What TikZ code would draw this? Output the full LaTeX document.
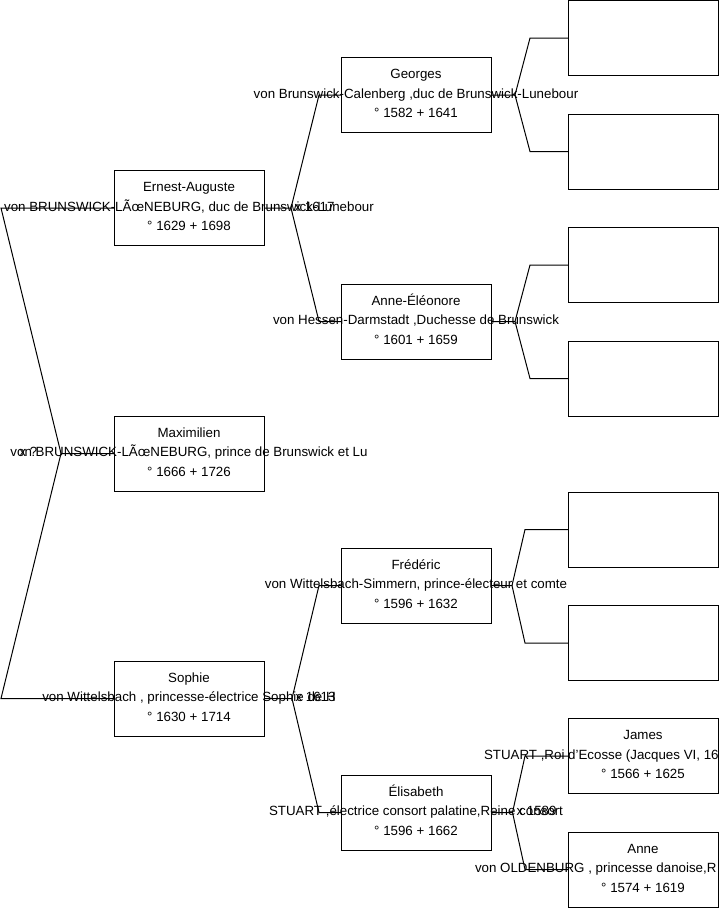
\documentclass[tikz,border=0pt]{standalone}
\usepackage{fontspec}
\setmainfont{Liberation Sans}
\newcommand\txtfont{\fontsize{13.33}{16}\selectfont}
\begin{document}
\begin{tikzpicture}[x=1pt,y=-1pt,
  box/.style={draw=black, line width=1pt, minimum width=150pt, minimum height=75pt, inner sep=0pt, outer sep=0pt},
  lbl/.style={anchor=base, inner sep=0pt, outer sep=0pt, font=\txtfont, text=black},
  lblw/.style={anchor=base west, inner sep=0pt, outer sep=0pt, font=\txtfont, text=black},
  conn/.style={draw=black, line width=1pt}]
\useasboundingbox (0,0) rectangle (719,908);
\newcommand\perso[6]{%
  \node[box] (#1) at (#2,#3) {};
  \node[lbl] (#1-a) at (#2,#3-16.5) {#4};
  \node[lbl] (#1-b) at (#2,#3+3) {#5};
  \node[lbl] (#1-c) at (#2,#3+22.5) {#6};}
% column 1
\perso{ea}{189}{208}{Ernest-Auguste}{von BRUNSWICK-LÃ\char"0153 NEBURG, duc de Brunswick-Lunebour}{° 1629 + 1698}
\perso{mx}{189}{453.5}{Maximilien}{von BRUNSWICK-LÃ\char"0153 NEBURG, prince de Brunswick et Lu}{° 1666 + 1726}
\perso{so}{189}{698.5}{Sophie}{von Wittelsbach , princesse-électrice Sophie de H}{° 1630 + 1714}
% column 2
\perso{ge}{416}{95}{Georges}{von Brunswick-Calenberg ,duc de Brunswick-Lunebour}{° 1582 + 1641}
\perso{ae}{416}{321.5}{Anne-Éléonore}{von Hessen-Darmstadt ,Duchesse de Brunswick}{° 1601 + 1659}
\perso{fr}{416}{585.5}{Frédéric}{von Wittelsbach-Simmern, prince-électeur et comte\hspace{3.7pt}}{° 1596 + 1632}
\perso{el}{416}{812.5}{Élisabeth}{STUART ,électrice consort palatine,Reine consort\hspace{4pt}}{° 1596 + 1662}
% column 3
\node[box] (e1) at (643,38) {};
\node[box] (e2) at (643,151.5) {};
\node[box] (e3) at (643,265) {};
\node[box] (e4) at (643,378.5) {};
\node[box] (e5) at (643,529.5) {};
\node[box] (e6) at (643,643) {};
\node[box] (ja) at (643,756) {};
\node[lbl] (ja-a) at (643,739.5) {James};
\node[lblw] (ja-b) at (484,759) {STUART ,Roi d'Ecosse (Jacques VI, 16};
\node[lbl] (ja-c) at (643,778.5) {° 1566 + 1625};
\node[box] (an) at (643,869.5) {};
\node[lbl] (an-a) at (643,853) {Anne};
\node[lblw] (an-b) at (475,872.5) {von OLDENBURG , princesse danoise,R};
\node[lbl] (an-c) at (643,892) {° 1574 + 1619};
% vertices
\coordinate (vL) at (61,453.5);
\coordinate (tEA) at (1,208);
\coordinate (tSO) at (1,698.5);
\coordinate (v1) at (291,208);
\coordinate (v2) at (292,698.5);
\coordinate (vge) at (515,95);
\coordinate (vae) at (515,321.5);
\coordinate (vfr) at (512,585.5);
\coordinate (vel) at (512.5,812.5);
% connectors
\draw[conn] (mx.west) -- (vL) -- (tEA) -- (ea.west);
\draw[conn] (vL) -- (tSO) -- (so.west);
\draw[conn] (ea.east) -- (v1) -- ([xshift=-22pt]ge.west) -- (ge.west);
\draw[conn] (v1) -- ([xshift=-22pt]ae.west) -- (ae.west);
\draw[conn] (so.east) -- (v2) -- ([xshift=-22pt]fr.west) -- (fr.west);
\draw[conn] (v2) -- ([xshift=-22pt]el.west) -- (el.west);
\draw[conn] (ge.east) -- (vge) -- ([xshift=-38pt]e1.west) -- (e1.west);
\draw[conn] (vge) -- ([xshift=-38pt]e2.west) -- (e2.west);
\draw[conn] (ae.east) -- (vae) -- ([xshift=-38pt]e3.west) -- (e3.west);
\draw[conn] (vae) -- ([xshift=-38pt]e4.west) -- (e4.west);
\draw[conn] (fr.east) -- (vfr) -- ([xshift=-43pt]e5.west) -- (e5.west);
\draw[conn] (vfr) -- ([xshift=-43pt]e6.west) -- (e6.west);
\draw[conn] (el.east) -- (vel) -- ([xshift=-43pt]ja.west) -- (ja.west);
\draw[conn] (vel) -- ([xshift=-43pt]an.west) -- (an.west);
% marriage labels
\node[lblw] (m0) at (19.5,456) {x ?};
\node[lblw] (m1) at (294.5,211) {x 1617};
\node[lblw] (m2) at (295.5,701.5) {x 1613};
\node[lblw] (m3) at (516.5,815.5) {x 1589};
\end{tikzpicture}
\end{document}
